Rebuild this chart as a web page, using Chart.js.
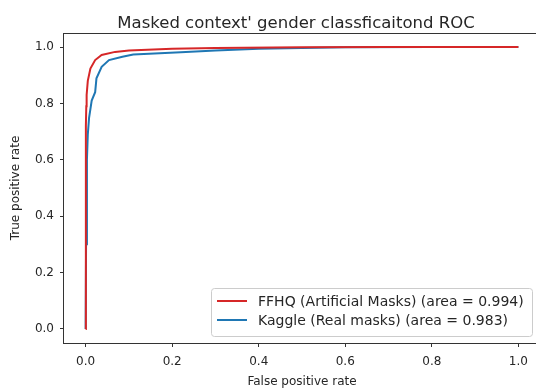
<!DOCTYPE html>
<html>
<head>
<meta charset="utf-8">
<script src="https://cdn.jsdelivr.net/npm/chart.js@4"></script>
<style>
  body { margin: 0; overflow: hidden; background: #fff; }
  #wrap { width: 541px; height: 390px; }
</style>
</head>
<body>
<div id="wrap"><canvas id="roc"></canvas></div>
<script>
// ROC points (false positive rate, true positive rate)
var ffhqFpr = [0, 0.0003, 0.0008, 0.0015, 0.0023, 0.005, 0.011, 0.022, 0.037, 0.068, 0.1, 0.2, 0.3, 0.5, 0.7, 1.0];
var ffhqTpr = [0, 0.45, 0.72, 0.79, 0.83, 0.88, 0.924, 0.954, 0.972, 0.983, 0.988, 0.994, 0.997, 0.999, 1.0, 1.0];
var kaggleFpr = [0, 0.001, 0.003, 0.005, 0.008, 0.014, 0.022, 0.025, 0.037, 0.054, 0.085, 0.11, 0.22, 0.3, 0.4, 0.5, 0.6, 0.8, 1.0];
var kaggleTpr = [0, 0.3, 0.6, 0.69, 0.75, 0.81, 0.84, 0.889, 0.93, 0.954, 0.966, 0.974, 0.982, 0.988, 0.994, 0.997, 0.999, 1.0, 1.0];
var seriesNames = ['FFHQ (Artificial Masks) (area = 0.994)', 'Kaggle (Real masks) (area = 0.983)'];
var seriesColors = ['#d62728', '#1f77b4'];
var xTicks = [0, 0.2, 0.4, 0.6, 0.8, 1.0];
var yTicks = [0, 0.2, 0.4, 0.6, 0.8, 1.0];

function toPoints(xs, ys) {
  return xs.map(function (x, i) { return {x: x, y: ys[i]}; });
}

var font = "'DejaVu Sans', sans-serif";
var ink = '#262626';

var frame = {
  id: 'frame',
  afterDatasetsDraw: function (chart) {
    var a = chart.chartArea, c = chart.ctx;
    c.save();
    c.strokeStyle = '#333';
    c.lineWidth = 1;
    c.strokeRect(Math.round(a.left) - 0.5, Math.round(a.top) + 0.5,
      Math.round(a.right - a.left), Math.round(a.bottom - a.top));
    c.restore();
  }
};

var titleAndLegend = {
  id: 'titleAndLegend',
  afterDraw: function (chart) {
    var c = chart.ctx;
    c.save();
    // title
    c.fillStyle = ink;
    c.font = '16.5px ' + font;
    c.textAlign = 'center';
    c.textBaseline = 'alphabetic';
    c.fillText("Masked context' gender classficaitond ROC", 296, 28);
    // legend box
    var bx = 211.5, by = 288.5, bw = 321, bh = 48, r = 3;
    c.beginPath();
    c.moveTo(bx + r, by);
    c.arcTo(bx + bw, by, bx + bw, by + bh, r);
    c.arcTo(bx + bw, by + bh, bx, by + bh, r);
    c.arcTo(bx, by + bh, bx, by, r);
    c.arcTo(bx, by, bx + bw, by, r);
    c.closePath();
    c.fillStyle = 'rgba(255,255,255,0.8)';
    c.fill();
    c.strokeStyle = '#cccccc';
    c.lineWidth = 1;
    c.stroke();
    c.font = '14px ' + font;
    c.textAlign = 'left';
    c.textBaseline = 'middle';
    chart.data.datasets.forEach(function (ds, i) {
      var y = 301 + i * 19;
      c.strokeStyle = ds.borderColor;
      c.lineWidth = 2;
      c.beginPath();
      c.moveTo(217, y);
      c.lineTo(247, y);
      c.stroke();
      c.fillStyle = ink;
      c.fillText(ds.label, 258, y + 1.5);
    });
    c.restore();
  }
};

function axis(ticks, title, isY) {
  return {
    type: 'linear',
    min: -0.05,
    max: 1.05,
    afterBuildTicks: function (scale) {
      scale.ticks = ticks.map(function (v) { return {value: v}; });
    },
    afterFit: function (scale) {
      if (isY) scale.width = 64; else scale.height = 47;
    },
    grid: { display: true, drawOnChartArea: false, drawTicks: true, tickLength: 4, color: '#333' },
    border: { display: false },
    ticks: {
      color: ink,
      padding: isY ? 6 : 8,
      font: { family: font, size: 12 },
      callback: function (v) { return Number(v).toFixed(1); }
    },
    title: {
      display: true,
      text: title,
      color: ink,
      font: { family: font, size: 12 },
      padding: isY ? { top: 9, bottom: 0 } : { top: 0, bottom: 1 }
    }
  };
}

new Chart(document.getElementById('roc'), {
  type: 'scatter',
  data: {
    datasets: [
      { label: seriesNames[0], data: toPoints(ffhqFpr, ffhqTpr), showLine: true,
        borderColor: seriesColors[0], borderWidth: 2, pointRadius: 0, tension: 0 },
      { label: seriesNames[1], data: toPoints(kaggleFpr, kaggleTpr), showLine: true,
        borderColor: seriesColors[1], borderWidth: 2, pointRadius: 0, tension: 0 }
    ]
  },
  options: {
    responsive: true,
    maintainAspectRatio: false,
    animation: false,
    layout: { padding: { top: 33, right: 1, left: 0, bottom: 0 } },
    plugins: { legend: { display: false }, title: { display: false }, tooltip: { enabled: false } },
    scales: {
      x: axis(xTicks, 'False positive rate', false),
      y: axis(yTicks, 'True positive rate', true)
    }
  },
  plugins: [frame, titleAndLegend]
});
</script>
</body>
</html>
